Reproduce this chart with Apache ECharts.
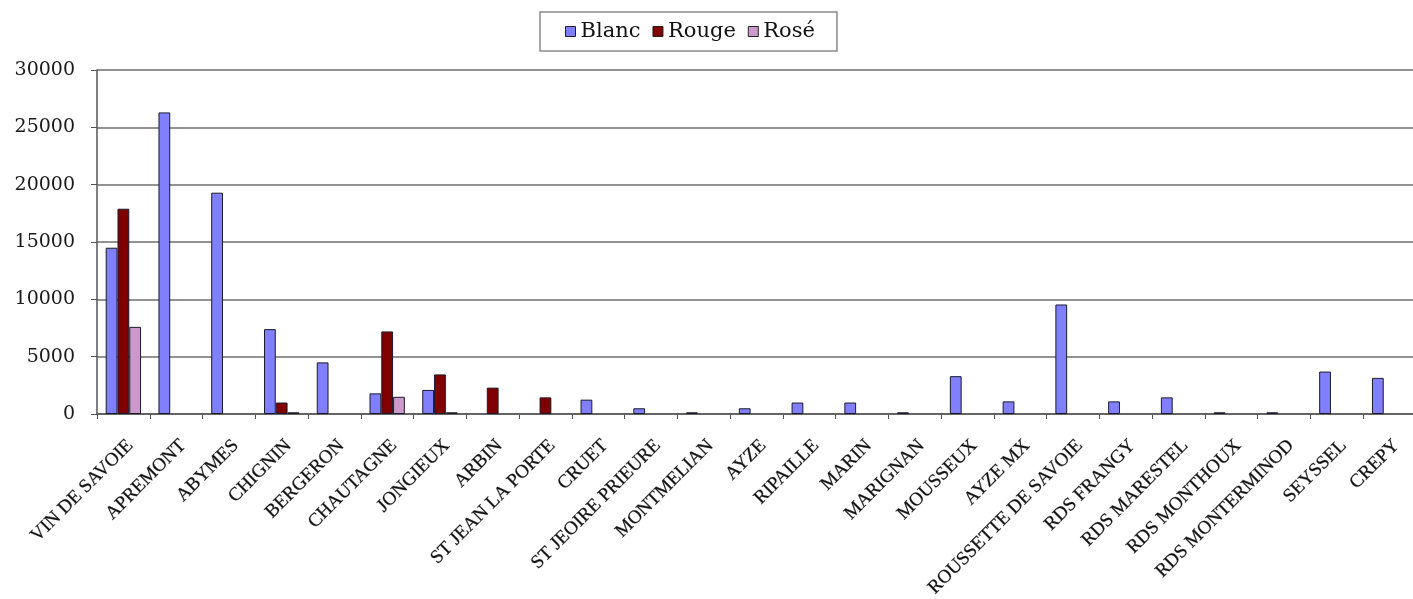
<!DOCTYPE html>
<html>
<head>
<meta charset="utf-8">
<script src="https://cdn.jsdelivr.net/npm/echarts@6/dist/echarts.min.js"></script>
<style>
  html, body { margin: 0; padding: 0; background: #ffffff; }
  #chart { width: 1413px; height: 599px; }
</style>
</head>
<body>
<div id="chart"></div>
<script>
// Appellations (x axis)
const categories = [
  'VIN DE SAVOIE', 'APREMONT', 'ABYMES', 'CHIGNIN', 'BERGERON', 'CHAUTAGNE',
  'JONGIEUX', 'ARBIN', 'ST JEAN LA PORTE', 'CRUET', 'ST JEOIRE PRIEURE',
  'MONTMELIAN', 'AYZE', 'RIPAILLE', 'MARIN', 'MARIGNAN', 'MOUSSEUX', 'AYZE MX',
  'ROUSSETTE DE SAVOIE', 'RDS FRANGY', 'RDS MARESTEL', 'RDS MONTHOUX',
  'RDS MONTERMINOD', 'SEYSSEL', 'CREPY'
];

// Volumes per wine colour (null = no production)
const blanc = [14500, 26300, 19300, 7400, 4500, 1800, 2100, null, null, 1250, 500,
  150, 500, 1000, 1000, 150, 3300, 1100, 9550, 1100, 1450, 150, 150, 3700, 3150];
const rouge = [17900, null, null, 1000, null, 7200, 3450, 2300, 1450, null, null,
  null, null, null, null, null, null, null, null, null, null, null, null, null, null];
const rose = [7600, null, null, 150, null, 1500, 150, null, null, null, null,
  null, null, null, null, null, null, null, null, null, null, null, null, null, null];

// Value axis ticks
const yMin = 0;
const yMax = 30000;
const yStep = 5000;

const seriesNames = ['Blanc', 'Rouge', 'Rosé'];
const seriesColors = ['#8080FF', '#800000', '#CC99CC'];
const seriesData = [blanc, rouge, rose];

const chart = echarts.init(document.getElementById('chart'), null, { renderer: 'canvas' });

const gridColor = '#6e6e6e';

chart.setOption({
  animation: false,
  backgroundColor: '#ffffff',
  legend: {
    top: 12,
    left: 540,
    data: seriesNames,
    orient: 'horizontal',
    itemWidth: 10,
    itemHeight: 10,
    itemGap: 12,
    padding: [9, 22, 9, 25],
    borderColor: '#8a8a8a',
    borderWidth: 1.5,
    icon: 'rect',
    itemStyle: { borderColor: '#222', borderWidth: 1 },
    textStyle: {
      fontFamily: 'DejaVu Serif',
      fontSize: 21,
      color: '#111'
    }
  },
  grid: {
    left: 97,
    right: -3,
    top: 70,
    bottom: 185,
    containLabel: false,
    outerBoundsMode: 'none'
  },
  xAxis: {
    type: 'category',
    data: categories,
    boundaryGap: true,
    axisLine: { lineStyle: { color: '#555', width: 1.5 } },
    axisTick: { show: true, inside: false, length: 5, alignWithLabel: false,
      lineStyle: { color: '#555', width: 1 } },
    axisLabel: {
      interval: 0,
      rotate: 45,
      margin: 22,
      align: 'right',
      verticalAlign: 'top',
      fontFamily: 'Liberation Serif',
      fontSize: 19,
      color: '#111',
      textBorderColor: 'rgba(20,20,20,0.45)',
      textBorderWidth: 0.6
    },
    splitLine: { show: false }
  },
  yAxis: {
    type: 'value',
    min: yMin,
    max: yMax,
    interval: yStep,
    axisLine: { show: true, lineStyle: { color: '#555', width: 1.5 } },
    axisTick: { show: true, inside: false, length: 6, lineStyle: { color: '#555', width: 1 } },
    axisLabel: {
      margin: 22,
      fontFamily: 'DejaVu Serif',
      fontSize: 19,
      color: '#1a1a1a',
      formatter: (v) => String(v)
    },
    splitLine: { show: true, lineStyle: { color: gridColor, width: 1.5 } }
  },
  series: seriesNames.map((name, i) => ({
    name: name,
    type: 'bar',
    data: seriesData[i],
    barGap: '0%',
    barCategoryGap: '33%',
    itemStyle: {
      color: seriesColors[i],
      borderColor: '#1a1a2a',
      borderWidth: 1
    },
    emphasis: { disabled: true }
  }))
});
</script>
</body>
</html>
